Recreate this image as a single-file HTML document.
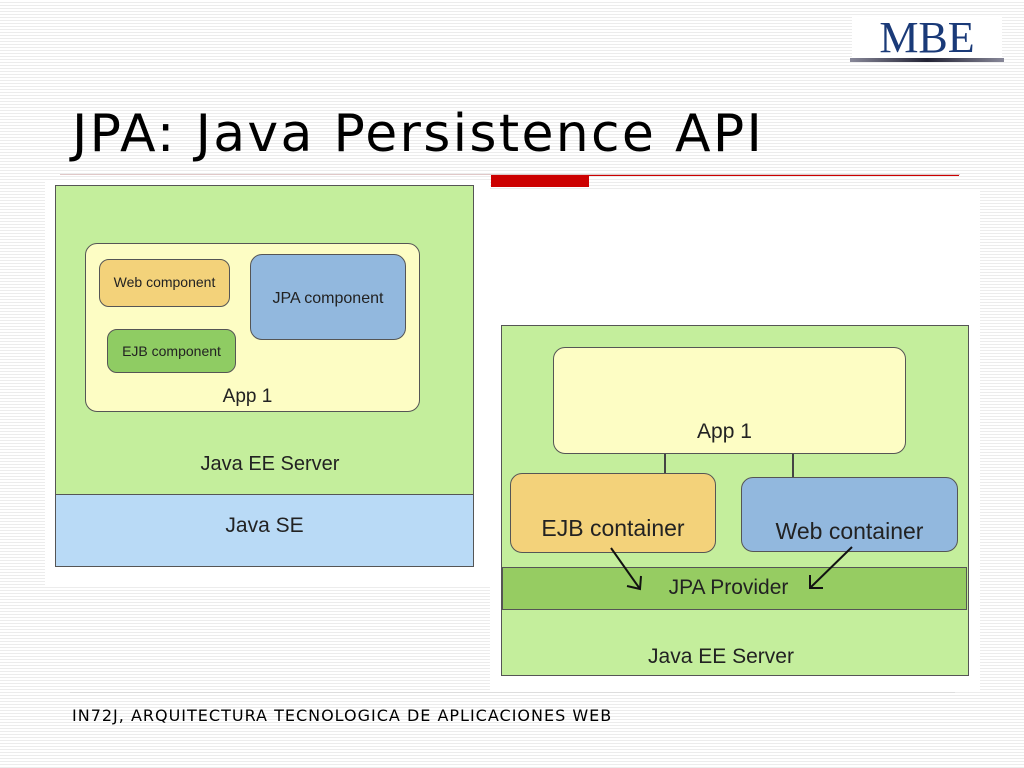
<!DOCTYPE html>
<html><head><style>
body{margin:0;width:1024px;height:768px;overflow:hidden;position:relative;font-family:"Liberation Sans",sans-serif;
background:repeating-linear-gradient(to bottom,#fff 0,#fff 2px,#ececec 2px,#ececec 3px);}
.a{position:absolute;box-sizing:border-box}
.t{font-family:"Liberation Sans",sans-serif;color:#222;text-align:center}
</style></head><body>
<div class="a" style="left:852px;top:15px;width:150px;height:44px;background:#fff"></div>
<div class="a" style="left:850px;top:58px;width:154px;height:4px;background:linear-gradient(to right,#889,#223,#889)"></div>
<div class="a" style="left:852px;top:14px;width:150px;text-align:center;font-family:'Liberation Serif',serif;font-size:44px;color:#1a3a78;line-height:48px">MBE</div>
<div class="a" style="left:72px;top:102px;font-family:'DejaVu Sans',sans-serif;font-size:52px;letter-spacing:2.3px;color:#000;line-height:64px;white-space:nowrap">JPA: Java Persistence API</div>
<div class="a" style="left:60px;top:174px;width:900px;height:1px;background:#e0c8c8"></div>
<div class="a" style="left:491px;top:175px;width:468px;height:1px;background:#c00"></div>
<div class="a" style="left:491px;top:175px;width:98px;height:12px;background:#c00"></div>
<div class="a" style="left:45px;top:180px;width:445px;height:405px;background:#fff"></div>
<div class="a" style="left:490px;top:190px;width:490px;height:500px;background:#fff"></div>
<!-- left -->
<div class="a" style="left:55px;top:185px;width:419px;height:310px;background:#c4ee9c;border:1px solid #555"></div>
<div class="a" style="left:55px;top:494px;width:419px;height:73px;background:#b9daf6;border:1px solid #555"></div>
<div class="a t" style="left:55px;top:453px;width:430px;font-size:20px">Java EE Server</div>
<div class="a t" style="left:55px;top:514px;width:419px;font-size:21px">Java SE</div>
<div class="a" style="left:85px;top:243px;width:335px;height:169px;background:#fdfdc4;border:1px solid #555;border-radius:12px"></div>
<div class="a t" style="left:85px;top:386px;width:325px;font-size:19px">App 1</div>
<div class="a t" style="left:99px;top:259px;width:131px;height:48px;background:#f3d27a;border:1px solid #555;border-radius:10px;font-size:14px;line-height:44px">Web component</div>
<div class="a t" style="left:250px;top:254px;width:156px;height:86px;background:#92b8de;border:1px solid #555;border-radius:12px;font-size:16px;line-height:88px">JPA component</div>
<div class="a t" style="left:107px;top:329px;width:129px;height:44px;background:#8fcc63;border:1px solid #555;border-radius:10px;font-size:14px;line-height:42px">EJB component</div>
<!-- right -->
<div class="a" style="left:501px;top:325px;width:468px;height:351px;background:#c4ee9c;border:1px solid #555"></div>
<div class="a" style="left:502px;top:567px;width:465px;height:43px;background:#96cc62;border:1px solid #555"></div>
<div class="a t" style="left:502px;top:576px;width:453px;font-size:21px">JPA Provider</div>
<div class="a t" style="left:501px;top:645px;width:440px;font-size:21px">Java EE Server</div>
<div class="a" style="left:553px;top:347px;width:353px;height:107px;background:#fdfdc4;border:1px solid #555;border-radius:12px"></div>
<div class="a t" style="left:553px;top:420px;width:343px;font-size:21px">App 1</div>
<div class="a" style="left:664px;top:454px;width:2px;height:20px;background:#444"></div>
<div class="a" style="left:792px;top:454px;width:2px;height:23px;background:#444"></div>
<div class="a t" style="left:510px;top:473px;width:206px;height:80px;background:#f3d27a;border:1px solid #555;border-radius:12px;font-size:23px;line-height:108px">EJB container</div>
<div class="a t" style="left:741px;top:477px;width:217px;height:75px;background:#92b8de;border:1px solid #555;border-radius:12px;font-size:23px;line-height:106px">Web container</div>
<svg class="a" style="left:0;top:0" width="1024" height="768">
<g stroke="#111" stroke-width="2" fill="none">
<line x1="611" y1="548" x2="640" y2="589"/><polyline points="627,586 640,589 641,576"/>
<line x1="852" y1="547" x2="810" y2="588"/><polyline points="810,575 810,588 823,588"/>
</g></svg>
<div class="a" style="left:70px;top:692px;width:885px;height:1px;background:#ddd"></div>
<div class="a" style="left:72px;top:706px;font-family:'DejaVu Sans',sans-serif;font-size:16px;letter-spacing:1px;color:#000;white-space:nowrap">IN72J, ARQUITECTURA TECNOLOGICA DE APLICACIONES WEB</div>
</body></html>
